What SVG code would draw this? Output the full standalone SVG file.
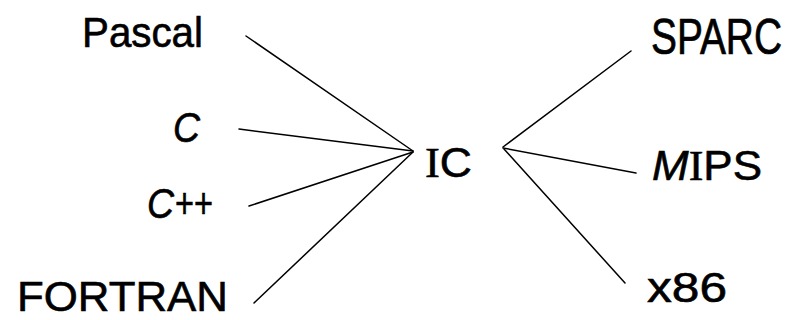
<svg xmlns="http://www.w3.org/2000/svg" width="788" height="320" viewBox="0 0 788 320">
  <style>
    .lbl { font-family: "Liberation Sans", Arial, sans-serif; font-size: 42px; fill: #000; stroke: #000; stroke-width: 0.6; }
    .it { font-style: italic; }
    .serif { font-family: "Liberation Serif", "Times New Roman", serif; }
    .edge { stroke: #000; stroke-width: 1.5; fill: none; stroke-linecap: round; }
  </style>
  <rect width="788" height="320" fill="#fff"/>

  <!-- connectors: source languages into IC, IC out to targets -->
  <g id="connectors">
    <line class="edge" x1="246" y1="36" x2="413" y2="151"/>
    <line class="edge" x1="239" y1="129" x2="413" y2="151"/>
    <line class="edge" x1="249" y1="206" x2="413" y2="152"/>
    <line class="edge" x1="254" y1="303" x2="413" y2="152"/>
    <line class="edge" x1="503" y1="147" x2="631" y2="51"/>
    <line class="edge" x1="503" y1="148" x2="636" y2="173"/>
    <line class="edge" x1="504" y1="149" x2="625" y2="283"/>
  </g>

  <!-- front ends -->
  <g id="pascal"><text class="lbl" x="82" y="47" textLength="121" lengthAdjust="spacingAndGlyphs">Pascal</text></g>
  <g id="c"><text class="lbl it" x="173" y="142" textLength="27" lengthAdjust="spacingAndGlyphs">C</text></g>
  <g id="cpp">
    <text class="lbl it" x="147" y="218" textLength="27" lengthAdjust="spacingAndGlyphs">C</text>
    <text class="lbl" x="175" y="218" textLength="38" lengthAdjust="spacingAndGlyphs">++</text>
  </g>
  <g id="fortran"><text class="lbl" x="17" y="311" textLength="211" lengthAdjust="spacingAndGlyphs">FORTRAN</text></g>

  <!-- intermediate code -->
  <g id="ic"><text class="lbl" x="425" y="177" textLength="47" lengthAdjust="spacingAndGlyphs"><tspan class="serif">I</tspan>C</text></g>

  <!-- back ends -->
  <g id="sparc"><text class="lbl" transform="translate(651,54) scale(1,1.2)" x="0" y="0" font-size="34" textLength="131" lengthAdjust="spacingAndGlyphs">SPARC</text></g>
  <g id="mips"><text class="lbl" x="652" y="180" textLength="110" lengthAdjust="spacingAndGlyphs"><tspan class="it">M</tspan><tspan class="serif">I</tspan>PS</text></g>
  <g id="x86"><text class="lbl" x="647" y="302" textLength="80" lengthAdjust="spacingAndGlyphs">x86</text></g>
</svg>
